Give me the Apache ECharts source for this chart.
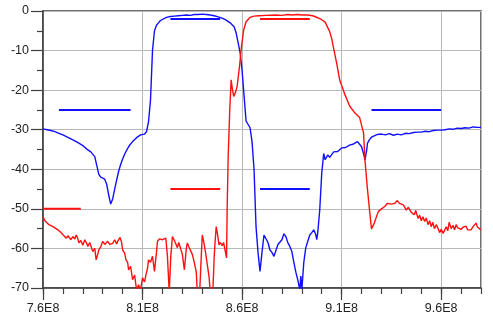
<!DOCTYPE html>
<html>
<head>
<meta charset="utf-8">
<script src="https://cdn.jsdelivr.net/npm/echarts@6/dist/echarts.min.js"></script>
<style>
html, body { margin: 0; background: #fff; }
#chart { width: 493px; height: 321px; }
</style>
</head>
<body>
<div id="chart"></div>
<script>
// frequencies in MHz, levels in dB
const blueFreq = [760, 762, 764, 766, 768, 770, 772, 774, 776, 778, 780, 782, 784, 786, 787, 788, 789, 790, 791, 792, 793, 794, 795, 796, 797, 798, 799, 800, 801, 802, 803, 804, 805, 806, 807, 808, 809, 810, 811, 812, 813, 814, 815, 816, 817, 818, 819, 820, 822, 824, 826, 828, 830, 832, 834, 836, 838, 840, 842, 844, 846, 848, 850, 852, 854, 856, 857, 858, 859, 860, 861, 862, 863, 864, 865, 866, 867, 868, 869, 870, 871, 872, 873, 874, 875, 876, 877, 878, 879, 880, 881, 882, 883, 884, 885, 886, 887, 888, 889, 889.5, 890, 891, 892, 893, 894, 895, 896, 897, 897.5, 898, 899, 900, 901, 901.7, 903, 904, 905, 906, 907, 908, 910, 912, 914, 916, 918, 919, 920, 921, 921.7, 922.5, 923, 924, 925, 926, 928, 930, 932, 934, 936, 938, 940, 942, 944, 946, 948, 950, 952, 954, 956, 958, 960, 962, 964, 966, 968, 970, 972, 974, 976, 978, 980];
const blueDb = [-29.8, -30.0, -30.2, -30.5, -30.9, -31.3, -31.8, -32.3, -32.8, -33.4, -34.0, -34.9, -35.6, -36.8, -39.0, -41.2, -42.0, -42.2, -42.5, -43.8, -46.5, -48.8, -47.5, -45.0, -42.7, -40.5, -38.8, -37.4, -36.2, -35.2, -34.3, -33.6, -33.0, -32.5, -32.0, -31.6, -31.3, -31.4, -31.1, -30.5, -28.0, -22.5, -10.0, -5.0, -3.6, -3.0, -2.4, -2.0, -1.6, -1.4, -1.3, -1.2, -1.1, -1.0, -1.1, -0.9, -0.9, -0.8, -0.9, -1.0, -1.2, -1.5, -1.8, -2.3, -3.0, -4.0, -5.5, -8.0, -10.5, -15.0, -21.5, -27.8, -27.5, -29.5, -33.0, -40.0, -54.5, -61.0, -65.8, -61.0, -56.6, -56.2, -58.5, -60.4, -61.0, -62.0, -60.5, -59.0, -58.5, -57.8, -56.3, -57.0, -58.6, -59.5, -60.8, -63.5, -66.0, -68.0, -70.5, -67.0, -70.5, -63.5, -59.8, -58.2, -56.6, -56.0, -55.3, -56.5, -57.8, -56.0, -50.3, -41.0, -36.0, -37.6, -36.4, -37.0, -36.8, -35.6, -35.3, -35.5, -34.6, -34.5, -33.9, -33.6, -33.0, -33.2, -34.3, -36.0, -37.6, -35.5, -33.4, -32.5, -31.9, -31.6, -31.2, -31.1, -31.3, -31.0, -31.4, -31.1, -31.3, -30.9, -31.0, -30.7, -30.6, -30.6, -30.4, -30.5, -30.2, -30.1, -30.1, -30.0, -29.8, -29.9, -29.6, -29.7, -29.5, -29.6, -29.3, -29.4, -29.4];

const redFreq = [760, 761, 762, 763, 764, 765, 766, 767.5, 768.5, 769, 770, 771.7, 772.5, 774, 775, 776, 776.7, 777.5, 778, 779, 780, 781, 782, 782.5, 783.5, 785, 786, 786.7, 787.5, 788, 789, 790, 791, 792.5, 793.5, 795, 796, 797, 797.5, 798.7, 799.5, 800, 801, 801.7, 802.5, 803, 804, 805, 806, 807, 808, 809, 810, 811, 811.7, 812.5, 813, 814, 815, 816, 817, 817.5, 818.5, 819, 820, 821, 821.7, 822.5, 823.4, 824.2, 825, 826, 827.5, 828.2, 829, 830, 831, 832, 832.5, 833.2, 834, 835, 836, 837, 837.5, 838.7, 839.5, 840, 840.8, 841.7, 842.5, 843.4, 844, 845.3, 846, 846.4, 847, 847.7, 848.4, 849, 850, 850.7, 851.4, 852.2, 852.5, 853, 853.8, 854.5, 855.2, 855.8, 856.7, 857.5, 858.1, 858.7, 859.7, 860.8, 862, 864, 866, 868.4, 872, 876.7, 880, 883, 885, 888, 890, 893, 895.5, 898, 900, 901.7, 902.5, 904, 905, 905.8, 907.5, 909, 910.5, 911.7, 914, 916.7, 919, 920, 921, 921.7, 923, 924, 925, 926.4, 928.4, 930, 931.7, 933, 934, 935, 936.7, 938, 939, 940, 941, 942.5, 943.5, 945, 945.8, 946.5, 947.2, 948.4, 949.2, 950, 950.8, 951.7, 952.5, 953.4, 954.2, 955, 955.8, 956.6, 957.5, 958.4, 959.2, 960, 961, 961.7, 962.5, 963.3, 964, 965, 966, 966.7, 967.5, 968.3, 969, 970, 971, 971.7, 972.5, 973.3, 974.2, 975, 976, 977, 977.5, 978.2, 980];
const redDb = [-52.0, -53.0, -52.5, -54.0, -53.6, -54.5, -54.2, -55.3, -54.8, -56.0, -56.3, -57.4, -56.8, -57.8, -57.0, -57.6, -56.6, -57.5, -58.6, -58.0, -59.2, -57.8, -58.8, -59.5, -58.5, -60.8, -60.0, -62.9, -61.5, -60.4, -59.6, -58.2, -59.0, -58.2, -59.0, -58.7, -57.8, -58.9, -58.2, -57.2, -58.5, -60.4, -61.2, -62.9, -63.5, -65.4, -64.5, -67.9, -66.7, -70.5, -69.2, -70.5, -67.4, -68.5, -66.7, -65.0, -62.9, -63.5, -62.0, -65.8, -61.0, -58.2, -57.6, -57.4, -57.8, -58.3, -57.4, -62.0, -71, -62, -57.0, -58.0, -59.8, -58.5, -58.7, -61.5, -65.4, -60, -58.6, -59.5, -59.8, -61.5, -63.6, -66, -71, -71, -62, -56.6, -58.5, -61.2, -64, -67.1, -71, -71, -62, -58.6, -54.5, -56.5, -59.1, -58.5, -59.3, -58.5, -58.2, -62.4, -50, -37, -25, -17.4, -20, -21.6, -20.5, -19.1, -16.5, -14.0, -9.0, -4.8, -2.7, -1.6, -1.3, -1.2, -1.1, -1.0, -1.1, -0.9, -1.0, -0.9, -1.0, -1.0, -1.2, -1.7, -2.2, -2.8, -3.1, -5.2, -7.0, -9.0, -13.2, -17.4, -19.5, -21.2, -24.0, -25.8, -26.9, -26.8, -30.8, -37.6, -45.2, -50.3, -55.1, -53.6, -50.7, -50.0, -49.4, -48.6, -48.2, -48.8, -48.6, -47.9, -48.6, -48.4, -49.0, -50.3, -49.6, -50.9, -50.7, -51.5, -50.4, -52.4, -51.6, -53.0, -52.0, -53.2, -52.3, -54.0, -53.0, -54.5, -53.4, -55.0, -54.0, -54.9, -56.0, -55.2, -56.2, -56.0, -54.5, -55.5, -53.4, -55.0, -54.2, -55.3, -54.0, -54.8, -54.3, -55.2, -54.6, -54.9, -54.4, -55.3, -54.8, -55.3, -54.5, -55.0, -53.6, -54.6, -55.3];

// spec mask segments: [start MHz, end MHz, level dB]
const blueMask = [[768, 804, -25], [824, 849, -2], [869, 894, -45], [925, 960, -25]];
const redMask = [[760, 779, -50], [824, 849, -45], [869, 894, -2]];

const xMin = 760e6, xMax = 980e6, xStep = 50e6, xMinorStep = 10e6;
const yMin = -70, yMax = 0, yStep = 10;

const BLUE = '#1010ff';
const RED = '#ff1010';
const AXIS = '#404040';
const GRID = '#b8b8b8';

function toPairs(freq, db) {
    return freq.map((f, i) => [f * 1e6, db[i]]);
}

function maskSeries(mask, color) {
    return mask.map(m => ({
        type: 'line',
        data: [[m[0] * 1e6, m[2]], [m[1] * 1e6, m[2]]],
        symbol: 'none',
        lineStyle: { color: color, width: 2 },
        silent: true
    }));
}

const labelStyle = { color: '#222', fontSize: 12.5, fontFamily: 'Liberation Sans, Arial, sans-serif' };

const chart = echarts.init(document.getElementById('chart'));
chart.setOption({
    animation: false,
    backgroundColor: '#fff',
    grid: { left: 43, right: 12, top: 11, bottom: 33, show: true, borderColor: AXIS, borderWidth: 1.5, backgroundColor: 'transparent' },
    xAxis: [{
        type: 'value', position: 'bottom', min: xMin, max: xMax, interval: xStep,
        axisLine: { onZero: false, lineStyle: { color: AXIS, width: 1.5 } },
        axisTick: { length: 12, lineStyle: { color: AXIS, width: 1.2 } },
        axisLabel: Object.assign({ margin: 14, showMaxLabel: false, formatter: v => (v / 1e8).toFixed(1) + 'E8' }, labelStyle),
        splitLine: { lineStyle: { color: GRID, width: 1 } }
    }, {
        type: 'value', position: 'bottom', min: xMin, max: xMax, interval: xMinorStep,
        axisLine: { show: false, onZero: false },
        axisTick: { length: 6, lineStyle: { color: AXIS, width: 1.2 } },
        axisLabel: { show: false },
        splitLine: { show: false }
    }],
    yAxis: {
        type: 'value', min: yMin, max: yMax, interval: yStep,
        axisLine: { show: true, lineStyle: { color: AXIS, width: 1.5 } },
        axisTick: { length: 12, lineStyle: { color: AXIS, width: 1.2 } },
        minorTick: { show: true, splitNumber: 2, length: 6, lineStyle: { color: AXIS, width: 1.2 } },
        axisLabel: Object.assign({ margin: 14 }, labelStyle),
        splitLine: { lineStyle: { color: GRID, width: 1 } }
    },
    series: [
        ...maskSeries(blueMask, BLUE),
        ...maskSeries(redMask, RED),
        {
            type: 'line', name: 'blue', data: toPairs(blueFreq, blueDb),
            symbol: 'none', clip: true,
            lineStyle: { color: BLUE, width: 1.4 }
        },
        {
            type: 'line', name: 'red', data: toPairs(redFreq, redDb),
            symbol: 'none', clip: true,
            lineStyle: { color: RED, width: 1.4 }
        }
    ]
});
</script>
</body>
</html>
